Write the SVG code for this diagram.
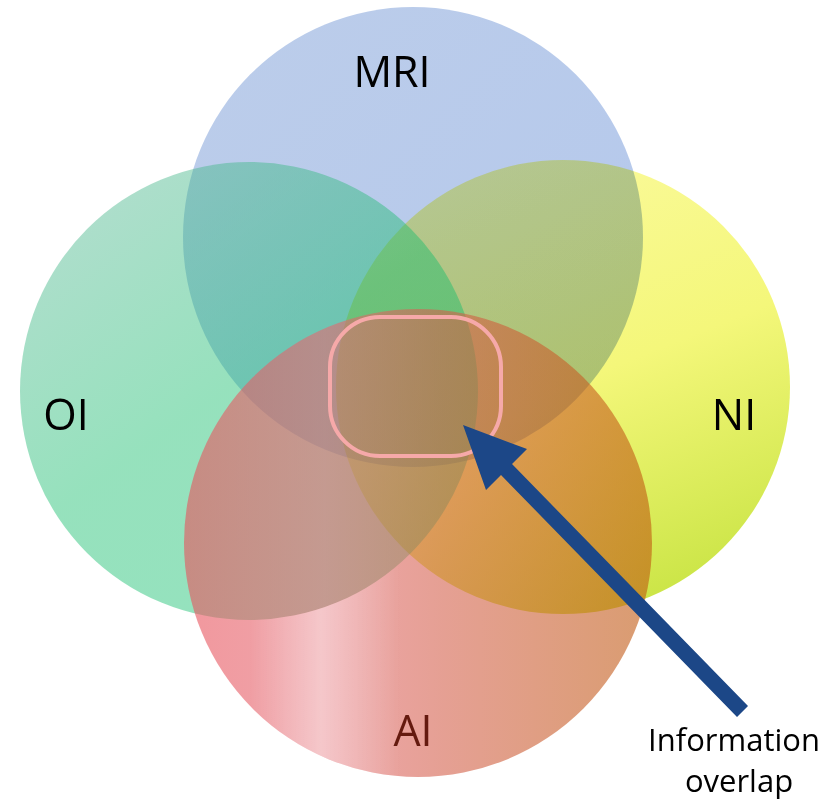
<svg xmlns="http://www.w3.org/2000/svg" width="838" height="806" viewBox="0 0 838 806">
  <style>
    .lbl { font-family: "Open Sans", "Liberation Sans", sans-serif; fill: #000; }
    .big { font-size: 43px; }
    .note { font-size: 31px; }
  </style>
  <defs>
    <linearGradient id="gMRI" x1="0" y1="0" x2="1" y2="1">
      <stop offset="0" stop-color="#bccdea"/>
      <stop offset="1" stop-color="#b4c8ec"/>
    </linearGradient>
    <linearGradient id="gNI" x1="0.3" y1="0" x2="0.7" y2="1">
      <stop offset="0" stop-color="#fbfa9e"/>
      <stop offset="0.5" stop-color="#f4f77a"/>
      <stop offset="1" stop-color="#c9e444"/>
    </linearGradient>
    <linearGradient id="gOI" x1="0.1" y1="0" x2="0.8" y2="1">
      <stop offset="0" stop-color="#56b494"/>
      <stop offset="0.5" stop-color="#16bd6c"/>
      <stop offset="1" stop-color="#12c070"/>
    </linearGradient>
    <linearGradient id="gAI" x1="0" y1="0" x2="1" y2="0">
      <stop offset="0" stop-color="#e8525c"/>
      <stop offset="0.3" stop-color="#e46a72"/>
      <stop offset="0.55" stop-color="#d4604c"/>
      <stop offset="1" stop-color="#c05a10"/>
    </linearGradient>
    <!-- soft highlight band across the lower part of AI -->
    <linearGradient id="gSheen" x1="250" y1="0" x2="400" y2="0" gradientUnits="userSpaceOnUse">
      <stop offset="0" stop-color="#ffffff" stop-opacity="0"/>
      <stop offset="0.47" stop-color="#ffffff" stop-opacity="0.38"/>
      <stop offset="1" stop-color="#ffffff" stop-opacity="0"/>
    </linearGradient>
    <mask id="mSheen" maskUnits="userSpaceOnUse" x="0" y="0" width="838" height="806">
      <circle cx="418" cy="543" r="234" fill="#ffffff"/>
      <circle cx="249" cy="391" r="229" fill="#000000"/>
    </mask>
  </defs>

  <rect width="838" height="806" fill="#ffffff"/>

  <!-- the four sets of the Venn diagram -->
  <g id="mri">
    <circle cx="413" cy="237" r="230" fill="url(#gMRI)"/>
    <text class="lbl big" x="392" y="87" text-anchor="middle">MRI</text>
  </g>
  <g id="ni" style="mix-blend-mode:multiply">
    <circle cx="563" cy="387" r="227" fill="url(#gNI)"/>
  </g>
  <g id="oi">
    <circle cx="249" cy="391" r="229" fill="url(#gOI)" fill-opacity="0.45"/>
  </g>
  <g id="ai">
    <circle cx="418" cy="543" r="234" fill="url(#gAI)" fill-opacity="0.6"/>
    <rect x="250" y="300" width="150" height="490" fill="url(#gSheen)" mask="url(#mSheen)"/>
  </g>

  <!-- set labels drawn above all fills -->
  <text class="lbl big" x="66" y="430" text-anchor="middle">OI</text>
  <text class="lbl big" x="734" y="430" text-anchor="middle">NI</text>
  <text class="lbl big" x="413" y="746" text-anchor="middle" style="fill:#641a0f">AI</text>

  <!-- common region marker -->
  <g id="overlap">
    <rect x="330" y="317" width="171" height="139" rx="50" ry="50" fill="none" stroke="#f6a9a9" stroke-width="4"/>
  </g>

  <!-- pointer -->
  <g id="connectors">
    <polygon fill="#1c4787" points="463,425 527,449 512,464 748,706 737,717 501,475 486,490"/>
  </g>

  <g id="note">
    <text class="lbl note" x="734" y="751" text-anchor="middle">Information</text>
    <text class="lbl note" x="739" y="792" text-anchor="middle">overlap</text>
  </g>
</svg>
